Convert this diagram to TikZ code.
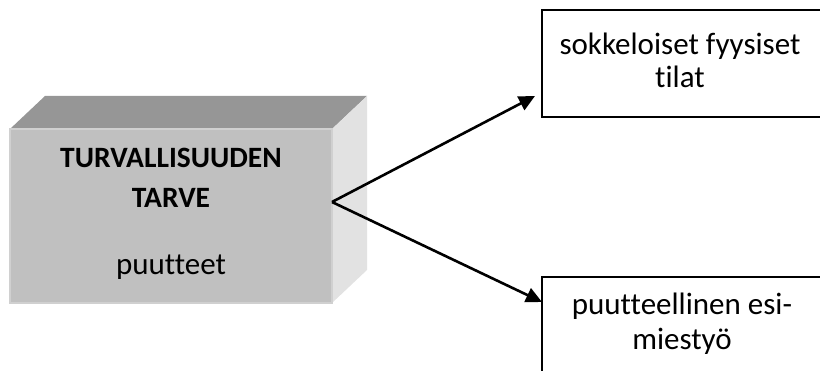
\documentclass[tikz,border=0pt]{standalone}
\usepackage{fontspec}
\setmainfont{Carlito}[Ligatures={NoCommon}]
\usetikzlibrary{arrows.meta}
\definecolor{frontgray}{HTML}{C0C0C0}
\definecolor{topgray}{HTML}{969696}
\definecolor{sidegray}{HTML}{E2E2E2}
\definecolor{edgegray}{HTML}{D0D0D0}
\begin{document}
\begin{tikzpicture}[x=1pt,y=-1pt,
  txt/.style={font=\fontsize{31}{34}\selectfont, inner sep=0pt, anchor=base},
  boldtxt/.style={txt, font=\fontsize{29.5}{34}\selectfont\bfseries},
  outbox/.style={draw=black, line width=2.4pt},
  link/.style={draw=black, line width=2.6pt, -{Triangle[length=16pt,width=15pt]}}]
  \useasboundingbox (0,0) rectangle (820,371);
  % block with depth: top face, side face, front face
  \fill[topgray] (10,129) -- (45,96) -- (367,96) -- (332,129) -- cycle;
  \fill[sidegray] (332,129) -- (367,96) -- (367,270) -- (332,303) -- cycle;
  \fill[frontgray] (10,129) rectangle (332,303);
  \draw[edgegray, line width=1.2pt] (10,303) -- (10,129) -- (332,129) -- (332,303) -- cycle;
  \node[boldtxt] (head) at (171,168) {TURVALLISUUDEN};
  \node[boldtxt] (head2) at (171,208) {TARVE};
  \node[txt] (sub) at (171,275) {puutteet};
  \coordinate (src) at (332,202);
  % target boxes, running past the right edge
  \draw[outbox] (830,10) -- (542,10) -- (542,117) -- (830,117);
  \node[txt] (spaces) at (680,55) {sokkeloiset fyysiset};
  \node[txt] (spaces2) at (680,88) {tilat};
  \draw[outbox] (830,277) -- (542,277) -- (542,380);
  \node[txt] (lead) at (682,315) {puutteellinen esi-};
  \node[txt] (lead2) at (682,350) {miestyö};
  \coordinate (t1) at (535,96);
  \coordinate (t2) at (542,302);
  \draw[link] (src) -- (t1);
  \draw[link] (src) -- (t2);
\end{tikzpicture}
\end{document}
